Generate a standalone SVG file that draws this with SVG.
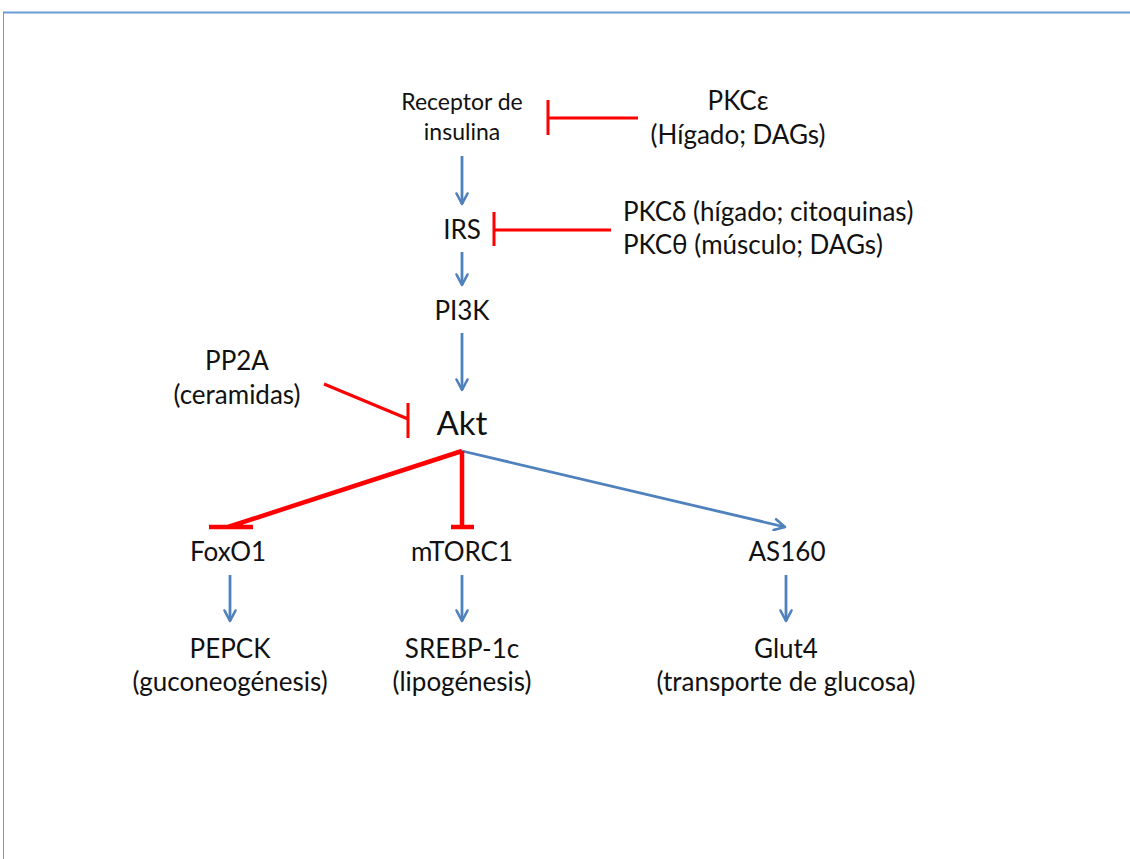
<svg xmlns="http://www.w3.org/2000/svg" width="1130" height="859" viewBox="0 0 1130 859">
  <defs>
    <marker id="arr" viewBox="0 0 14 14" refX="12" refY="7" markerWidth="14" markerHeight="14" markerUnits="userSpaceOnUse" orient="auto">
      <path d="M1.5,1.5 L12,7 L1.5,12.5" fill="none" stroke="#4F81BD" stroke-width="2.6" stroke-linecap="round" stroke-linejoin="round"/>
    </marker>
    <style>
      text { font-family: Lato, "Open Sans", "Liberation Sans", sans-serif; fill: #111; text-anchor: middle; }
      .t20 { font-size: 23px; }
      .t22 { font-size: 26px; }
      .t30 { font-size: 33px; }
      .act { stroke: #4F81BD; stroke-width: 2.8; fill: none; marker-end: url(#arr); }
      .inh { stroke: #FF0000; stroke-width: 3; fill: none; }
      .inh2 { stroke: #FF0000; stroke-width: 4.5; fill: none; }
      .frame { stroke: #6A9BD4; fill: none; }
    </style>
  </defs>
  <rect width="1130" height="859" fill="#fff"/>
  <!-- page frame -->
  <g id="frame">
    <line class="frame" x1="3" y1="12.5" x2="1130" y2="12.5" stroke-width="2"/>
    <line class="frame" x1="3.5" y1="12" x2="3.5" y2="859" stroke-width="1"/>
  </g>

  <g id="connectors">
    <!-- activation arrows -->
    <line class="act" x1="462" y1="156" x2="462" y2="204"/>
    <line class="act" x1="462" y1="252" x2="462" y2="285"/>
    <line class="act" x1="462" y1="333" x2="462" y2="390"/>
    <line class="act" x1="462" y1="451" x2="785" y2="527"/>
    <line class="act" x1="230" y1="575" x2="230" y2="621"/>
    <line class="act" x1="462" y1="575" x2="462" y2="621"/>
    <line class="act" x1="786" y1="575" x2="786" y2="621"/>
    <!-- inhibitions -->
    <path class="inh" d="M638,118 H548 M548,100 V135"/>
    <path class="inh" d="M611,230 H494 M494,212 V246"/>
    <path class="inh" d="M324,384 L408,419 M408,403 V438"/>
    <path class="inh2" d="M462,451 L228,527 M209,527 H253"/>
    <path class="inh2" d="M462,451 V527 M451,527 H474"/>
  </g>

  <g id="receptor"><text class="t20" x="462" y="110">Receptor de</text><text class="t20" x="462" y="140">insulina</text></g>
  <g id="pkce"><text class="t22" x="738" y="110">PKCε</text><text class="t22" x="738" y="144">(Hígado; DAGs)</text></g>
  <g id="irs"><text class="t22" x="462" y="239">IRS</text></g>
  <g id="pkcd"><text class="t22" x="623" y="221" style="text-anchor:start">PKCδ (hígado; citoquinas)</text><text class="t22" x="623" y="254" style="text-anchor:start">PKCθ (músculo; DAGs)</text></g>
  <g id="pi3k"><text class="t22" x="462" y="320">PI3K</text></g>
  <g id="pp2a"><text class="t22" x="237" y="370">PP2A</text><text class="t22" x="237" y="404">(ceramidas)</text></g>
  <g id="akt"><text class="t30" x="462" y="435">Akt</text></g>
  <g id="foxo1"><text class="t22" x="228" y="561">FoxO1</text></g>
  <g id="mtorc1"><text class="t22" x="462" y="561">mTORC1</text></g>
  <g id="as160"><text class="t22" x="787" y="561">AS160</text></g>
  <g id="pepck"><text class="t22" x="230" y="658">PEPCK</text><text class="t22" x="230" y="691">(guconeogénesis)</text></g>
  <g id="srebp"><text class="t22" x="462" y="658">SREBP-1c</text><text class="t22" x="462" y="691">(lipogénesis)</text></g>
  <g id="glut4"><text class="t22" x="786" y="658">Glut4</text><text class="t22" x="786" y="691">(transporte de glucosa)</text></g>
</svg>
